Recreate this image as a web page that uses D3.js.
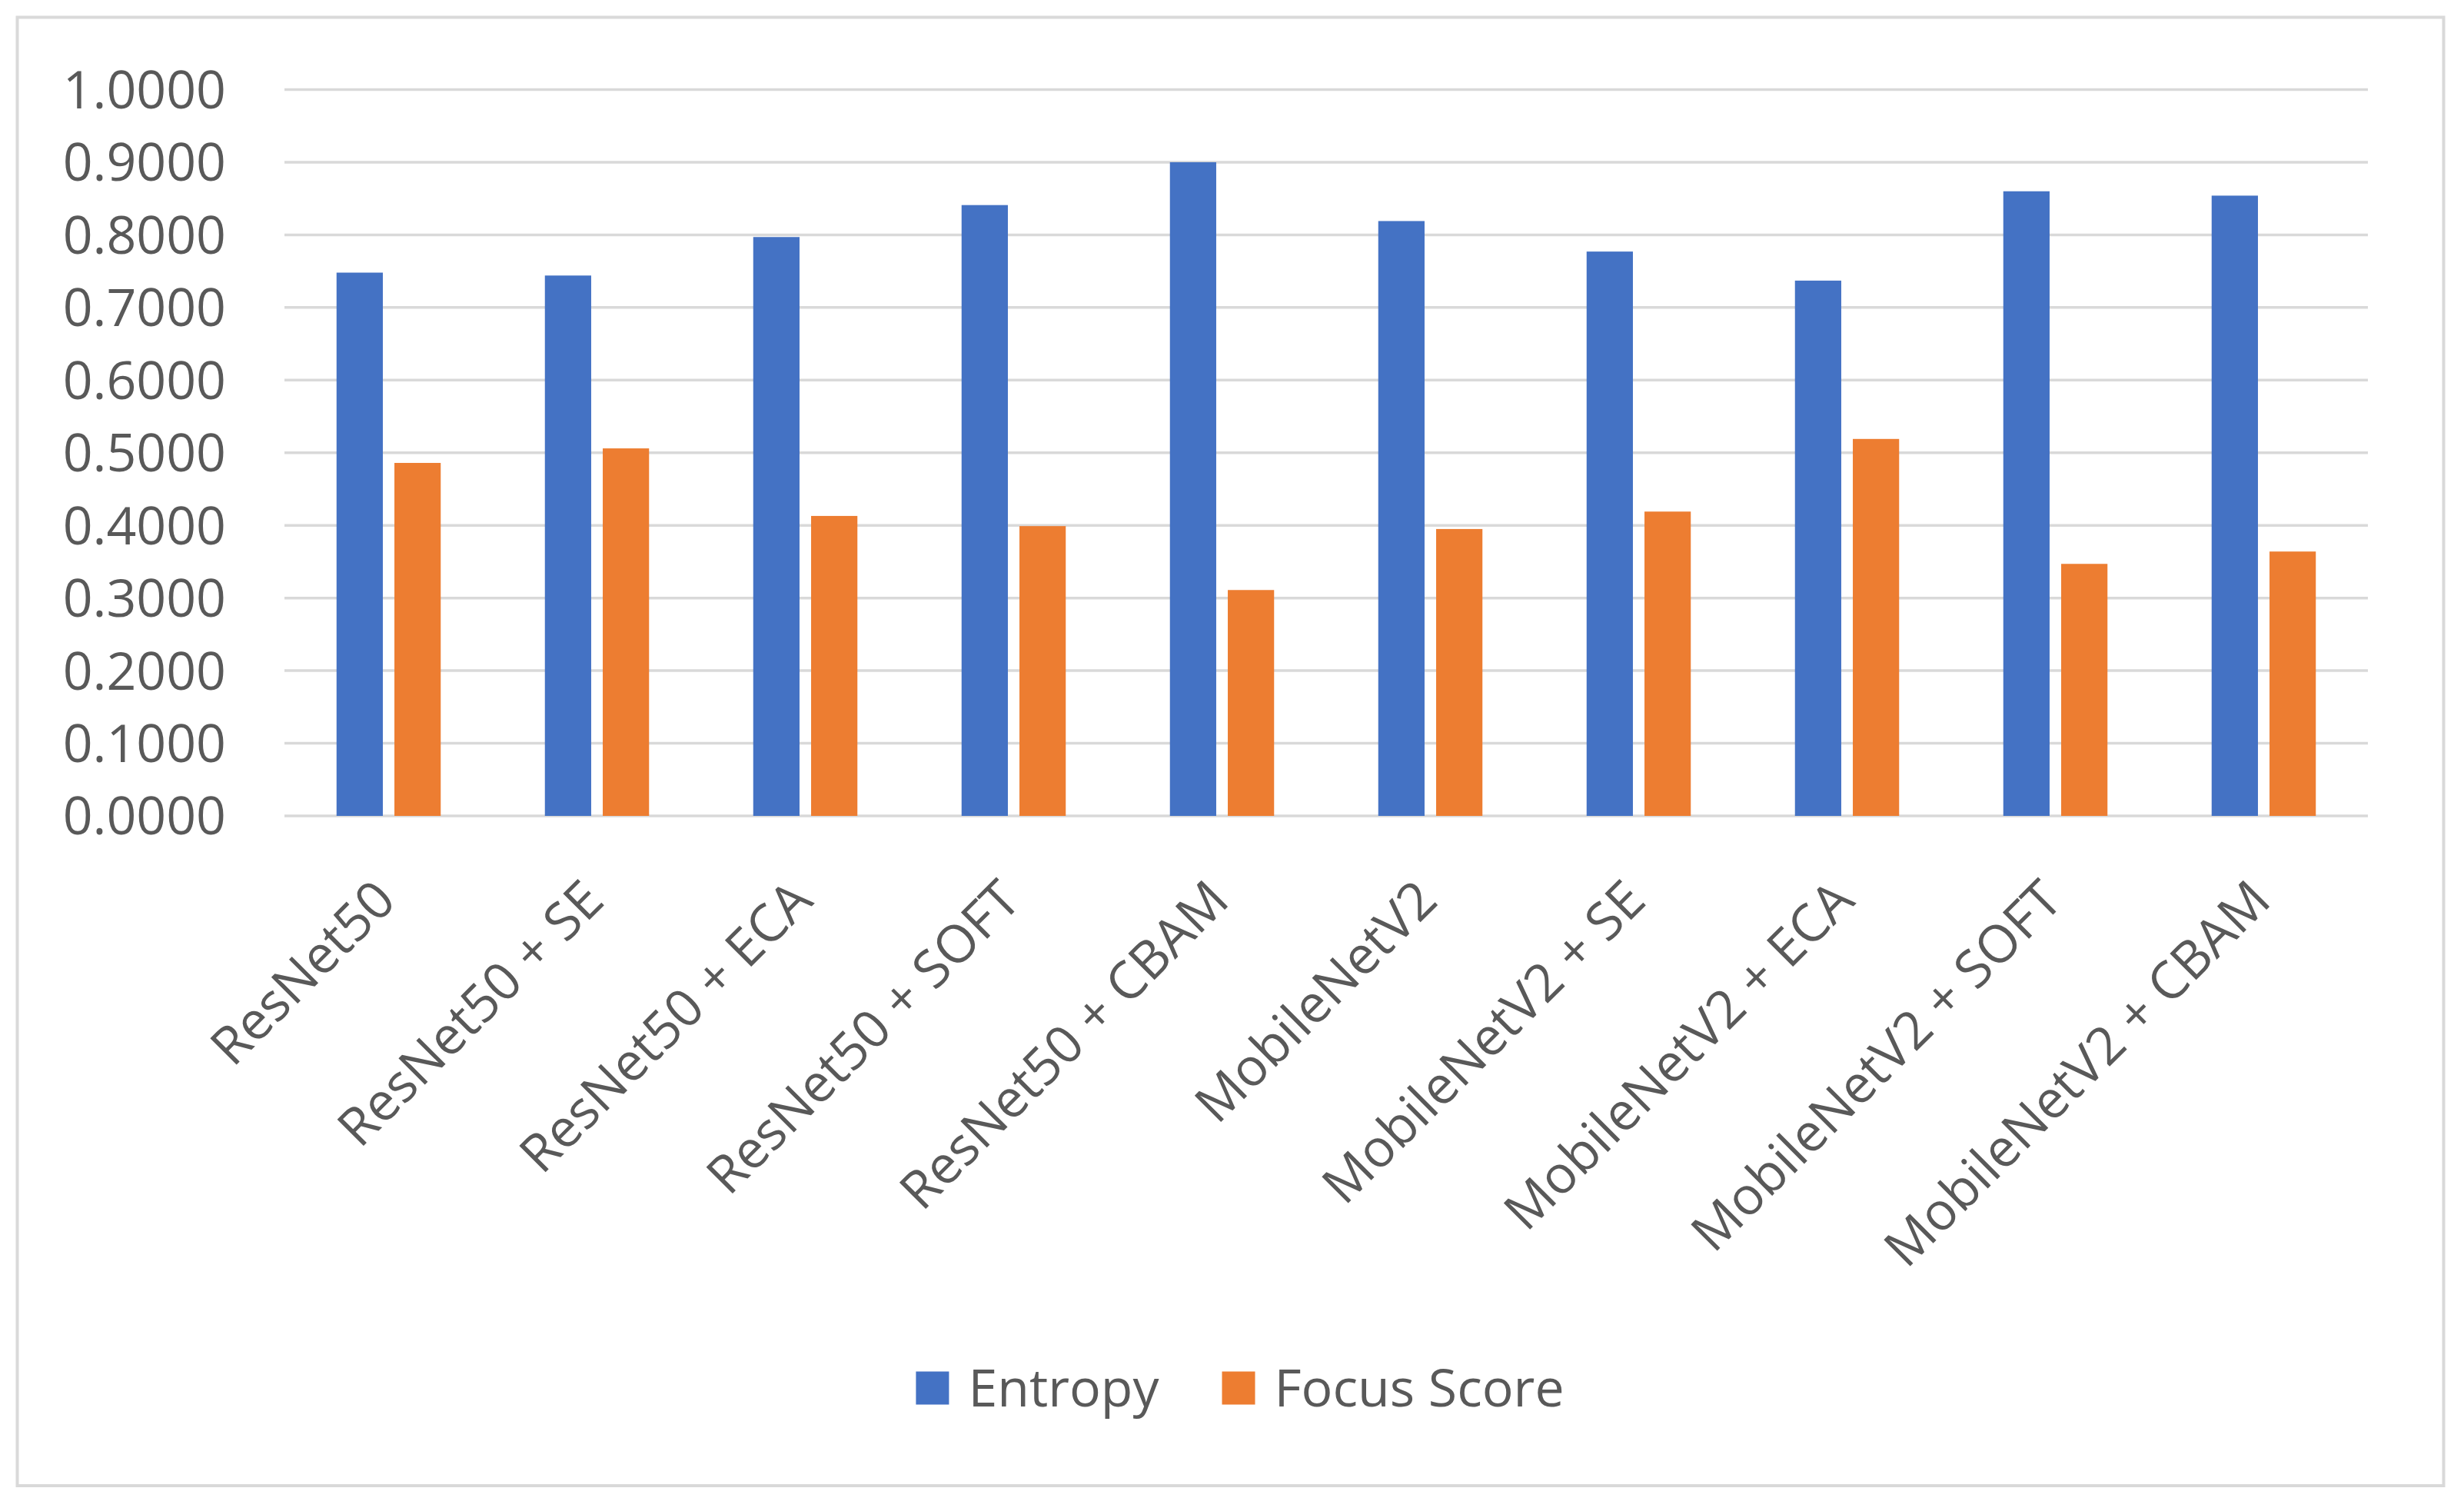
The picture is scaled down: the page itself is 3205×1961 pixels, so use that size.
<!DOCTYPE html>
<html>
<head>
<meta charset="utf-8">
<script src="https://cdn.jsdelivr.net/npm/d3@7"></script>
<style>
  body { margin: 0; background: #fff; }
</style>
</head>
<body>
<div id="chart"></div>
<script>
// Chart data
const categories = [
  'ResNet50', 'ResNet50 + SE', 'ResNet50 + ECA', 'ResNet50 + SOFT', 'ResNet50 + CBAM',
  'MobileNetV2', 'MobileNetV2 + SE', 'MobileNetV2 + ECA', 'MobileNetV2 + SOFT', 'MobileNetV2 + CBAM'
];
const seriesNames = ['Entropy', 'Focus Score'];
const entropy = [0.748, 0.744, 0.797, 0.841, 0.900, 0.819, 0.777, 0.737, 0.860, 0.854];
const focusScore = [0.486, 0.506, 0.413, 0.399, 0.311, 0.395, 0.419, 0.519, 0.347, 0.364];
const yTicks = [0, 0.1, 0.2, 0.3, 0.4, 0.5, 0.6, 0.7, 0.8, 0.9, 1.0];

const colors = { 'Entropy': '#4472C4', 'Focus Score': '#ED7D31' };
const FONT = '"Open Sans", "Noto Sans", sans-serif';
const TEXT_COLOR = '#595959';
const GRID_COLOR = '#D9D9D9';

const width = 3205;
const height = 1961;
const plot = { left: 370, right: 3080, top: 116.5, bottom: 1061 };

const svg = d3.select('#chart')
  .append('svg')
  .attr('width', width)
  .attr('height', height);

// Outer chart border
svg.append('rect')
  .attr('x', 22.5)
  .attr('y', 22.5)
  .attr('width', 3178.5 - 22.5)
  .attr('height', 1932 - 22.5)
  .attr('fill', '#fff')
  .attr('stroke', GRID_COLOR)
  .attr('stroke-width', 4);

// Scales
const x0 = d3.scaleBand()
  .domain(categories)
  .range([plot.left, plot.right])
  .padding(0);

const x1 = d3.scaleBand()
  .domain(seriesNames)
  .range([0, x0.bandwidth()])
  .paddingInner(0.2)
  .paddingOuter(0.9);

const y = d3.scaleLinear()
  .domain([0, 1])
  .range([plot.bottom, plot.top]);

// Horizontal gridlines (the 0 line doubles as the axis)
svg.append('g')
  .selectAll('line')
  .data(yTicks)
  .join('line')
  .attr('x1', plot.left)
  .attr('x2', plot.right)
  .attr('y1', d => y(d))
  .attr('y2', d => y(d))
  .attr('stroke', GRID_COLOR)
  .attr('stroke-width', 3.5);

// Y tick labels
svg.append('g')
  .selectAll('text')
  .data(yTicks)
  .join('text')
  .attr('x', 294)
  .attr('y', d => y(d))
  .attr('dy', '0.36em')
  .attr('text-anchor', 'end')
  .attr('fill', TEXT_COLOR)
  .attr('font-family', FONT)
  .attr('font-size', '68px')
  .text(d => d3.format('.4f')(d));

// Bars
const rows = categories.map((c, i) => ({
  category: c,
  values: [
    { key: 'Entropy', value: entropy[i] },
    { key: 'Focus Score', value: focusScore[i] }
  ]
}));

const groups = svg.append('g')
  .selectAll('g')
  .data(rows)
  .join('g')
  .attr('transform', d => `translate(${x0(d.category)},0)`);

groups.selectAll('rect')
  .data(d => d.values)
  .join('rect')
  .attr('x', d => x1(d.key))
  .attr('y', d => y(d.value))
  .attr('width', x1.bandwidth())
  .attr('height', d => y(0) - y(d.value))
  .attr('fill', d => colors[d.key]);

// Rotated category labels
svg.append('g')
  .selectAll('text')
  .data(categories)
  .join('text')
  .attr('transform', d => `translate(${x0(d) + x0.bandwidth() / 2 - 5},1157) rotate(-45)`)
  .attr('dy', '0.36em')
  .attr('text-anchor', 'end')
  .attr('fill', TEXT_COLOR)
  .attr('font-family', FONT)
  .attr('font-size', '68px')
  .text(d => d);

// Legend
const legend = svg.append('g');
const swatch = 43;
const swatchGap = 25;
const itemGap = 82;
const legendCenter = 1613;
const legendY = 1805;

const items = legend.selectAll('g')
  .data(seriesNames)
  .join('g');

items.append('rect')
  .attr('width', swatch)
  .attr('height', swatch)
  .attr('y', legendY - swatch / 2)
  .attr('fill', d => colors[d]);

items.append('text')
  .attr('x', swatch + swatchGap)
  .attr('y', legendY)
  .attr('dy', '0.36em')
  .attr('fill', TEXT_COLOR)
  .attr('font-family', FONT)
  .attr('font-size', '68px')
  .text(d => d);

// Lay out legend items side by side, centred
const widths = [];
items.each(function() {
  widths.push(swatch + swatchGap + d3.select(this).select('text').node().getComputedTextLength());
});
const total = d3.sum(widths) + itemGap * (widths.length - 1);
let cursor = legendCenter - total / 2;
items.attr('transform', (d, i) => {
  const t = `translate(${cursor},0)`;
  cursor += widths[i] + itemGap;
  return t;
});
</script>
</body>
</html>
